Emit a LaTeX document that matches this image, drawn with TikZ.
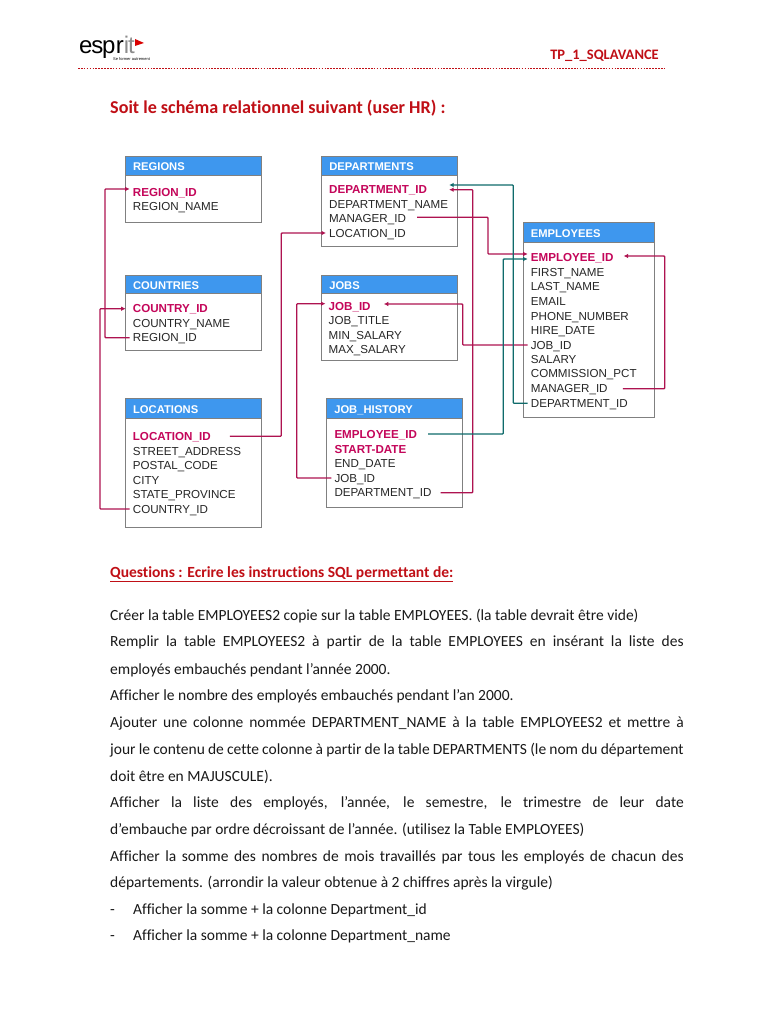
\documentclass[tikz,border=0pt]{standalone}
\usepackage{fontspec}
\setmainfont[Ligatures=CommonOff]{Carlito}
\newfontfamily\dbfont{Liberation Sans}
\usetikzlibrary{arrows.meta}
\definecolor{fkred}{HTML}{AE1350}
\definecolor{keyred}{HTML}{C4065A}
\definecolor{fkteal}{HTML}{0F6B6B}
\definecolor{headblue}{HTML}{3E97EE}
\definecolor{titlered}{HTML}{C00F16}
\tikzset{
	tablebox/.style={draw=black!50, fill=white, line width=0.8pt, anchor=north west, inner sep=0pt},
	tablehead/.style={draw=black!50, fill=headblue, line width=0.8pt, anchor=north west, inner sep=0pt, text=white, align=left, text height=10.5pt, text depth=0pt, font=\dbfont\fontsize{11.2}{12}\selectfont\bfseries},
	field/.style={anchor=west, inner xsep=3pt, inner ysep=0pt, text height=8.3pt, text depth=0pt, text=black!85, font=\dbfont\fontsize{11.6}{12}\selectfont},
	keyfield/.style={field, text=keyred, font=\dbfont\fontsize{11.6}{12}\selectfont\bfseries},
	fklink/.style={draw=fkred, line width=1.3pt, rounded corners=0.8pt, ->},
	teallink/.style={draw=fkteal, line width=1.3pt, rounded corners=0.8pt, ->},
	bodyline/.style={anchor=base west, inner sep=0pt, text=black!90, font=\fontsize{15.5}{16}\selectfont},
	redline/.style={anchor=base west, inner sep=0pt, text=titlered, font=\fontsize{15.5}{16}\selectfont\bfseries},
}
\newcommand{\fullline}[1]{\makebox[573.5pt][s]{#1}}
\begin{document}
\begin{tikzpicture}[x=1pt, y=-1pt, >={Latex[length=4.5pt,width=4.5pt]}]
	\useasboundingbox[fill=white] (0,0) rectangle (768,1024);

	\node[anchor=base west, inner sep=0pt, font=\dbfont\fontsize{24}{24}\selectfont] (logo) at (79,53.5) {\addfontfeature{LetterSpace=-5}esp};
	\node[anchor=base west, inner sep=0pt, font=\dbfont\fontsize{24}{24}\selectfont] (logoend) at (logo.base east) {\addfontfeature{LetterSpace=-5}r\textcolor{black!45}{it}};
	\node[anchor=base west, inner sep=0pt, font=\dbfont\fontsize{4}{5}\selectfont] (slogan) at (113,60.5) {Se former autrement};
	\fill[red!85!black] (135,39) -- (144,43) -- (135,46) -- cycle;
	\node[anchor=base east, inner sep=0pt, text=titlered, font=\fontsize{14.5}{16}\selectfont\bfseries] (tp) at (659,60) {TP\_1\_SQLAVANCE};
	\coordinate (rulea) at (78,68.5);
	\coordinate (ruleb) at (665,68.5);
	\draw[titlered, line width=1.6pt, dash pattern=on 1.6pt off 1.3pt] (rulea) -- (ruleb);
	\node[redline, font=\fontsize{18.1}{20}\selectfont\bfseries] (title) at (110,114) {Soit le schéma relationnel suivant (user HR) :};

	\node[tablebox, minimum width=136pt, minimum height=66.6pt] (regions) at (125,155.7) {};
	\node[tablehead, minimum width=136pt, minimum height=19pt, text width=128.5pt, inner xsep=0pt] (regionshead) at (125,155.7) {\hspace{4pt}REGIONS};
	\node[keyfield] (reg_id) at (129.7,192) {REGION\_ID};
	\node[field] (reg_name) at (129.7,206.7) {REGION\_NAME};

	\node[tablebox, minimum width=136pt, minimum height=75.3pt] (countries) at (125,274.7) {};
	\node[tablehead, minimum width=136pt, minimum height=18.6pt, text width=128.5pt] (countrieshead) at (125,274.7) {\hspace{4pt}COUNTRIES};
	\node[keyfield] (cou_id) at (129.7,308.7) {COUNTRY\_ID};
	\node[field] (cou_name) at (129.7,323) {COUNTRY\_NAME};
	\node[field] (cou_reg) at (129.7,337.7) {REGION\_ID};

	\node[tablebox, minimum width=136pt, minimum height=128.4pt] (locations) at (125,398.3) {};
	\node[tablehead, minimum width=136pt, minimum height=19.4pt, text width=128.5pt] (locationshead) at (125,398.3) {\hspace{4pt}LOCATIONS};
	\node[keyfield] (loc_id) at (129.7,436.3) {LOCATION\_ID};
	\node[field] (loc_street) at (129.7,451.3) {STREET\_ADDRESS};
	\node[field] (loc_postal) at (129.7,465.7) {POSTAL\_CODE};
	\node[field] (loc_city) at (129.7,480) {CITY};
	\node[field] (loc_state) at (129.7,494.7) {STATE\_PROVINCE};
	\node[field] (loc_cou) at (129.7,509) {COUNTRY\_ID};

	\node[tablebox, minimum width=136.3pt, minimum height=90.3pt] (departments) at (321,155.7) {};
	\node[tablehead, minimum width=136.3pt, minimum height=19pt, text width=128.5pt] (departmentshead) at (321,155.7) {\hspace{4pt}DEPARTMENTS};
	\node[keyfield] (dep_id) at (326,189.7) {DEPARTMENT\_ID};
	\node[field] (dep_name) at (326,204) {DEPARTMENT\_NAME};
	\node[field] (dep_mgr) at (326,218.3) {MANAGER\_ID};
	\node[field] (dep_loc) at (326,233) {LOCATION\_ID};

	\node[tablebox, minimum width=136.3pt, minimum height=85.3pt] (jobs) at (321,274.7) {};
	\node[tablehead, minimum width=136.3pt, minimum height=18.6pt, text width=128.5pt] (jobshead) at (321,274.7) {\hspace{4pt}JOBS};
	\node[keyfield] (job_id) at (325.5,306.3) {JOB\_ID};
	\node[field] (job_title) at (325.5,320.7) {JOB\_TITLE};
	\node[field] (job_min) at (325.5,335) {MIN\_SALARY};
	\node[field] (job_max) at (325.5,349.7) {MAX\_SALARY};

	\node[tablebox, minimum width=136.3pt, minimum height=109pt] (jobhistory) at (326,398.3) {};
	\node[tablehead, minimum width=136.3pt, minimum height=19.7pt, text width=128.5pt] (jobhistoryhead) at (326,398.3) {\hspace{4pt}JOB\_HISTORY};
	\node[keyfield] (his_emp) at (331.3,434) {EMPLOYEE\_ID};
	\node[keyfield] (his_start) at (331.3,449) {START-DATE};
	\node[field] (his_end) at (331.3,463.3) {END\_DATE};
	\node[field] (his_job) at (331.3,478) {JOB\_ID};
	\node[field] (his_dep) at (331.3,492.7) {DEPARTMENT\_ID};

	\node[tablebox, minimum width=131pt, minimum height=195pt] (employees) at (522.7,222.3) {};
	\node[tablehead, minimum width=131pt, minimum height=19.4pt, text width=123.5pt] (employeeshead) at (522.7,222.3) {\hspace{4pt}EMPLOYEES};
	\node[keyfield] (emp_id) at (527.7,257) {EMPLOYEE\_ID};
	\node[field] (emp_first) at (527.7,272) {FIRST\_NAME};
	\node[field] (emp_last) at (527.7,286.3) {LAST\_NAME};
	\node[field] (emp_mail) at (527.7,301) {EMAIL};
	\node[field] (emp_phone) at (527.7,316) {PHONE\_NUMBER};
	\node[field] (emp_hire) at (527.7,330) {HIRE\_DATE};
	\node[field] (emp_job) at (527.7,345) {JOB\_ID};
	\node[field] (emp_sal) at (527.7,359.3) {SALARY};
	\node[field] (emp_comm) at (527.7,373.7) {COMMISSION\_PCT};
	\node[field] (emp_mgr) at (527.7,388.7) {MANAGER\_ID};
	\node[field] (emp_dep) at (527.7,403.3) {DEPARTMENT\_ID};

	\coordinate (busreg) at (105,260);
	\coordinate (buscou) at (100,400);
	\coordinate (busloc) at (281.3,330);
	\coordinate (busjob) at (296.7,400);
	\coordinate (busdep) at (472.7,340);
	\coordinate (busmgr) at (488,240);
	\coordinate (busdepemp) at (513.3,300);
	\coordinate (busemp) at (503.3,340);
	\coordinate (busjobemp) at (462.7,325);
	\coordinate (busself) at (664.7,320);

	\draw[fklink] (cou_reg.west) -| (busreg) |- ([yshift=3pt]reg_id.west);
	\draw[fklink] (loc_cou.west) -| (buscou) |- ([xshift=-4pt]cou_id.west);
	\draw[fklink] ([xshift=16pt]loc_id.east) -| (busloc) |- (dep_loc.west);
	\draw[fklink] (his_job.west) -| (busjob) |- ([yshift=2.6pt]job_id.west);
	\draw[fklink] ([xshift=6pt]his_dep.east) -| (busdep) |- ([xshift=19pt]dep_id.east);
	\draw[fklink] ([xshift=8pt,yshift=1pt]dep_mgr.east) -| (busmgr) |- ([yshift=3pt]emp_id.west);
	\draw[fklink] (emp_job.west) -| (busjobemp) |- ([xshift=10pt,yshift=2.3pt]job_id.east);
	\draw[fklink] ([xshift=12pt]emp_mgr.east) -| (busself) |- ([xshift=7pt,yshift=1pt]emp_id.east);
	\draw[teallink] (emp_dep.west) -| (busdepemp) |- ([xshift=19pt,yshift=4.7pt]dep_id.east);
	\draw[teallink] ([xshift=8pt]his_emp.east) -| (busemp) |- ([yshift=-2pt]emp_id.west);

	\node[redline] (questions) at (110,577) {\underline{Questions : Ecrire les instructions SQL permettant de:}};
	\node[bodyline] (q1) at (110,620) {Créer la table EMPLOYEES2 copie sur la table EMPLOYEES. (la table devrait être vide)};
	\node[bodyline] (q2a) at (110,646.7) {\fullline{Remplir la table EMPLOYEES2 à partir de la table EMPLOYEES en insérant la liste des}};
	\node[bodyline] (q2b) at (110,674) {employés embauchés pendant l’année 2000.};
	\node[bodyline] (q3) at (110,700.7) {Afficher le nombre des employés embauchés pendant l’an 2000.};
	\node[bodyline] (q4a) at (110,727.3) {\fullline{Ajouter une colonne nommée DEPARTMENT\_NAME à la table EMPLOYEES2 et mettre à}};
	\node[bodyline] (q4b) at (110,754) {\fullline{jour le contenu de cette colonne à partir de la table DEPARTMENTS (le nom du département}};
	\node[bodyline] (q4c) at (110,781) {doit être en MAJUSCULE).};
	\node[bodyline] (q5a) at (110,807.7) {\fullline{Afficher la liste des employés, l’année, le semestre, le trimestre de leur date}};
	\node[bodyline] (q5b) at (110,834) {d’embauche par ordre décroissant de l’année. (utilisez la Table EMPLOYEES)};
	\node[bodyline] (q6a) at (110,861) {\fullline{Afficher la somme des nombres de mois travaillés par tous les employés de chacun des}};
	\node[bodyline] (q6b) at (110,887) {départements. (arrondir la valeur obtenue à 2 chiffres après la virgule)};
	\node[bodyline] (dash1) at (110,914) {-};
	\node[bodyline] (q7) at (133,914) {Afficher la somme + la colonne Department\_id};
	\node[bodyline] (dash2) at (110,940.3) {-};
	\node[bodyline] (q8) at (133,940.3) {Afficher la somme + la colonne Department\_name};
\end{tikzpicture}
\end{document}
